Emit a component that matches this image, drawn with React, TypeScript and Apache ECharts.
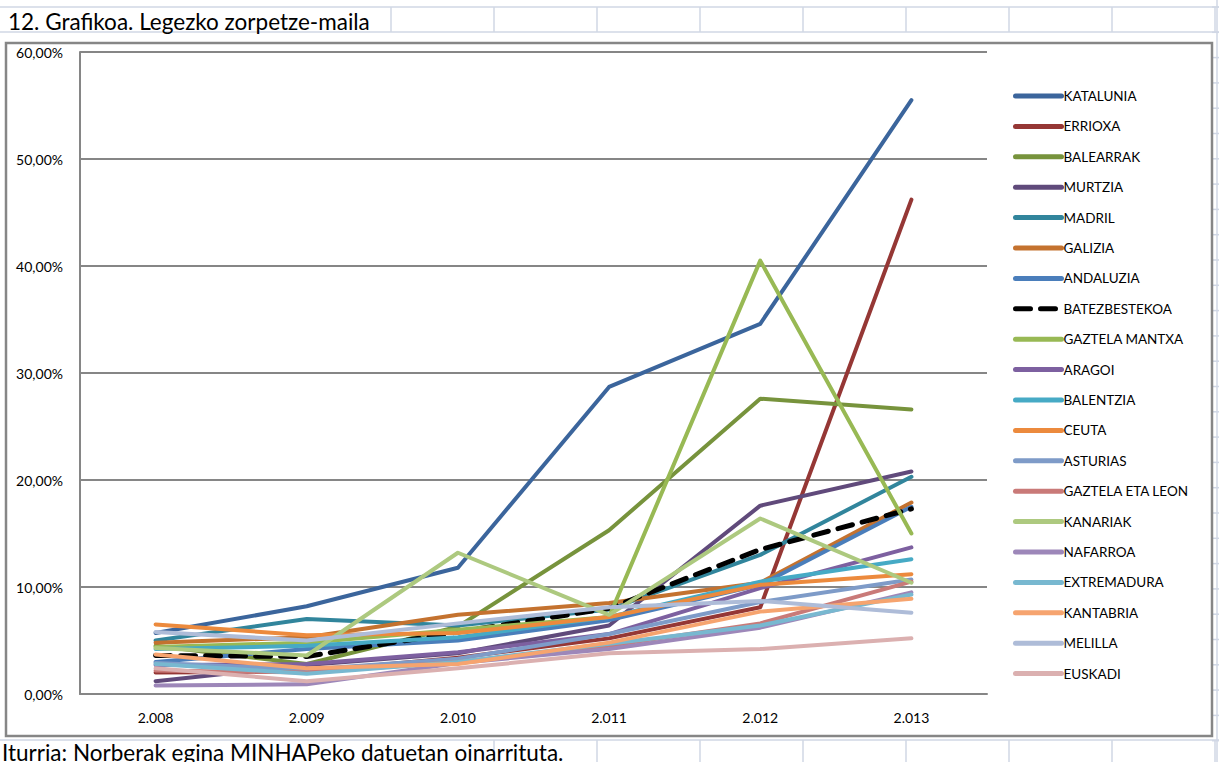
import React, { useEffect, useRef } from "react";
import * as echarts from "echarts";

const years = ["2.008", "2.009", "2.010", "2.011", "2.012", "2.013"];

const katalunia = [5.7, 8.2, 11.8, 28.7, 34.6, 55.5];
const errioxa = [2.0, 2.1, 3.4, 5.2, 8.1, 46.2];
const balearrak = [4.5, 2.8, 6.3, 15.3, 27.6, 26.6];
const murtzia = [1.2, 2.7, 3.8, 6.4, 17.6, 20.8];
const madril = [5.0, 7.0, 6.4, 7.9, 13.0, 20.3];
const galizia = [4.8, 5.3, 7.4, 8.5, 10.4, 17.9];
const andaluzia = [3.0, 4.2, 5.0, 6.9, 10.2, 17.5];
const batezbestekoa = [3.6, 3.5, 5.8, 8.0, 13.5, 17.3];
const gaztelaMantxa = [4.4, 4.8, 6.0, 7.2, 40.5, 15.0];
const aragoi = [2.7, 2.8, 3.9, 5.6, 9.9, 13.7];
const balentzia = [4.2, 4.5, 5.3, 7.2, 10.5, 12.6];
const ceuta = [6.5, 5.5, 5.7, 7.2, 10.2, 11.2];
const asturias = [2.9, 2.3, 3.3, 5.6, 8.6, 10.7];
const gaztelaEtaLeon = [2.2, 2.0, 3.0, 4.5, 6.6, 10.5];
const kanariak = [4.3, 3.6, 13.2, 7.4, 16.4, 10.4];
const nafarroa = [0.8, 0.9, 2.9, 4.2, 6.2, 9.5];
const extremadura = [2.8, 1.9, 3.0, 4.7, 6.4, 9.3];
const kantabria = [3.7, 2.4, 2.8, 4.8, 7.7, 8.9];
const melilla = [5.8, 5.0, 6.6, 8.1, 8.7, 7.6];
const euskadi = [2.4, 1.2, 2.4, 3.8, 4.2, 5.2];

const seriesNames = [
  "KATALUNIA", "ERRIOXA", "BALEARRAK", "MURTZIA", "MADRIL", "GALIZIA", "ANDALUZIA",
  "BATEZBESTEKOA", "GAZTELA MANTXA", "ARAGOI", "BALENTZIA", "CEUTA", "ASTURIAS",
  "GAZTELA ETA LEON", "KANARIAK", "NAFARROA", "EXTREMADURA", "KANTABRIA", "MELILLA", "EUSKADI",
];
const seriesValues = [
  katalunia, errioxa, balearrak, murtzia, madril, galizia, andaluzia,
  batezbestekoa, gaztelaMantxa, aragoi, balentzia, ceuta, asturias,
  gaztelaEtaLeon, kanariak, nafarroa, extremadura, kantabria, melilla, euskadi,
];
const seriesColors = [
  "#3b659c", "#953735", "#77933c", "#604a7b", "#31859c", "#c4722f", "#4a7ebb",
  "#000000", "#98b954", "#7d60a0", "#46aac5", "#ec8a3d", "#7e9bc8",
  "#c97a78", "#adc97f", "#9d87b9", "#78b8d0", "#f6a46f", "#aebcd8", "#dbb0b0",
];
const yTicks = [0, 0.1, 0.2, 0.3, 0.4, 0.5, 0.6];

const FONT = "Lato, 'Open Sans', sans-serif";
const CELL = "#d0d7e5";

export default function App() {
  const ref = useRef<HTMLDivElement>(null);

  useEffect(() => {
    if (!ref.current) return;
    const chart = echarts.init(ref.current, undefined, { renderer: "svg" });

    const bg: any[] = [];
    const colX = [391, 494, 597, 700, 803, 906, 1009, 1112, 1215];
    bg.push({ type: "line", z: -20, shape: { x1: 0, y1: 7, x2: 1219, y2: 7 }, style: { stroke: CELL, lineWidth: 1.5 } });
    bg.push({ type: "line", z: -20, shape: { x1: 0, y1: 32, x2: 1219, y2: 32 }, style: { stroke: CELL, lineWidth: 1.5 } });
    colX.forEach((x) => {
      bg.push({ type: "line", z: -20, shape: { x1: x, y1: 7, x2: x, y2: 32 }, style: { stroke: CELL, lineWidth: 1.5 } });
    });
    bg.push({ type: "line", z: -20, shape: { x1: 0, y1: 740, x2: 1219, y2: 740 }, style: { stroke: CELL, lineWidth: 1.5 } });
    colX.slice(1).forEach((x) => {
      bg.push({ type: "line", z: -20, shape: { x1: x, y1: 740, x2: x, y2: 762 }, style: { stroke: CELL, lineWidth: 1.5 } });
    });
    bg.push({ type: "line", z: -20, shape: { x1: 1217, y1: 0, x2: 1217, y2: 762 }, style: { stroke: CELL, lineWidth: 1.5 } });
    for (let k = 0; k < 31; k++) {
      const y = 7 + 25.3 * k;
      bg.push({ type: "line", z: -20, shape: { x1: 1212, y1: y, x2: 1219, y2: y }, style: { stroke: CELL, lineWidth: 1.5 } });
    }
    bg.push({
      type: "rect", z: -10,
      shape: { x: 6, y: 43, width: 1206, height: 693 },
      style: { fill: "#ffffff", stroke: "#868686", lineWidth: 2.5 },
    });
    bg.push({
      type: "text", z: 5, x: 8, y: 10,
      style: { text: "12. Grafikoa. Legezko zorpetze-maila", font: `22.5px ${FONT}`, fill: "#000", textVerticalAlign: "top" },
    });
    bg.push({
      type: "text", z: 5, x: 2, y: 741,
      style: { text: "Iturria: Norberak egina MINHAPeko datuetan oinarrituta.", font: `22.5px ${FONT}`, fill: "#000", textVerticalAlign: "top" },
    });

    const series = seriesNames.map((name, i) => {
      const dashed = name === "BATEZBESTEKOA";
      return {
        name,
        type: "line",
        data: seriesValues[i].map((v) => v / 100),
        symbol: "none",
        smooth: false,
        color: seriesColors[i],
        lineStyle: {
          color: seriesColors[i],
          width: dashed ? 5 : 4,
          type: dashed ? [15, 10] : "solid",
          cap: "round",
          join: "round",
        },
        z: 2 + i * 0.01,
      };
    });

    chart.setOption({
      animation: false,
      backgroundColor: "#ffffff",
      textStyle: { fontFamily: FONT },
      graphic: { elements: bg },
      grid: { left: 80, top: 52, right: 232, bottom: 68, containLabel: false },
      legend: {
        orient: "vertical",
        left: 1013,
        top: 89,
        padding: 0,
        itemWidth: 46,
        itemHeight: 14,
        itemGap: 16.4,
        itemStyle: { opacity: 0 },
        lineStyle: { width: 5 },
        textStyle: { fontSize: 13.5, color: "#000", fontFamily: FONT, padding: [0, 0, 0, -3] },
        data: seriesNames,
      },
      xAxis: {
        type: "category",
        data: years,
        boundaryGap: true,
        axisLine: { show: true, lineStyle: { color: "#868686", width: 2 } },
        axisTick: { show: false },
        axisLabel: { fontSize: 14, color: "#000", margin: 16, fontFamily: FONT },
        splitLine: { show: false },
      },
      yAxis: {
        type: "value",
        min: 0,
        max: 0.6,
        interval: 0.1,
        axisLine: { show: true, lineStyle: { color: "#868686", width: 2 } },
        axisTick: { show: false },
        axisLabel: {
          fontSize: 14,
          color: "#000",
          margin: 17,
          fontFamily: FONT,
          formatter: (v: number) => {
            const t = yTicks.find((x) => Math.abs(x - v) < 1e-9);
            const val = (t !== undefined ? t : v) * 100;
            return val.toFixed(2).replace(".", ",") + "%";
          },
        },
        splitLine: { show: true, lineStyle: { color: "#868686", width: 2 } },
      },
      series,
    });

    return () => chart.dispose();
  }, []);

  return (
    <div
      ref={ref}
      style={{ position: "fixed", left: 0, top: 0, width: 1219, height: 762, background: "#fff" }}
    />
  );
}
